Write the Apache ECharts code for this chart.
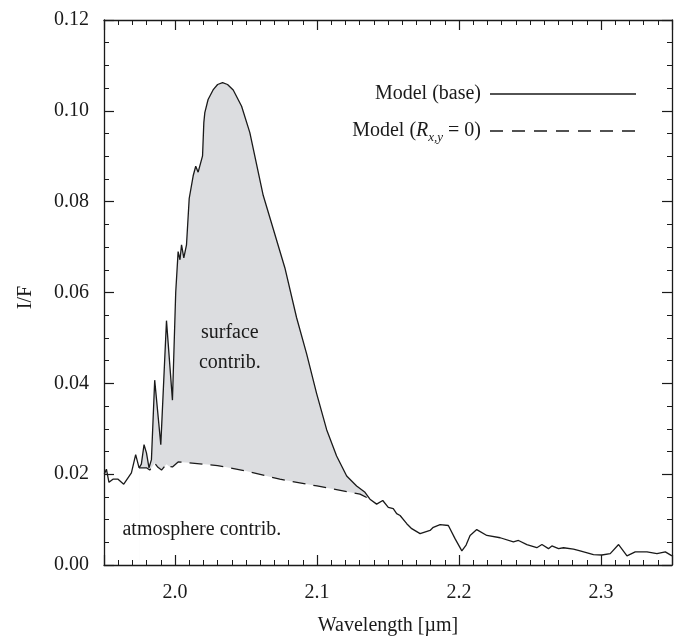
<!DOCTYPE html>
<html><head><meta charset="utf-8">
<script src="https://cdn.jsdelivr.net/npm/echarts@6/dist/echarts.min.js"></script>
<style>html,body{margin:0;padding:0;background:#fff}#c{width:679px;height:641px}</style>
</head><body><div id="c"></div>
<script>
// ---- data ----
const wavelength = [1.9502,1.9517,1.9535,1.9563,1.9599,1.9639,1.9693,1.9723,1.9747,1.9763,1.9782,1.9799,1.9817,1.9834,1.9857,1.9900,1.9940,1.9982,2.0005,2.0022,2.0035,2.0046,2.0062,2.0081,2.0100,2.0128,2.0146,2.0163,2.0194,2.0203,2.0210,2.0233,2.0268,2.0300,2.0335,2.0370,2.0410,2.0469,2.0527,2.0621,2.0691,2.0774,2.0856,2.0927,2.0997,2.1068,2.1138,2.1209,2.1279,2.1338,2.1373,2.1420,2.1463,2.1502,2.1537,2.1561,2.1585,2.1632,2.1667,2.1726,2.1796,2.1819,2.1867,2.1925,2.1972,2.2020,2.2050,2.2078,2.2125,2.2196,2.2290,2.2383,2.2419,2.2478,2.2548,2.2584,2.2630,2.2654,2.2701,2.2736,2.2806,2.2853,2.2947,2.3006,2.3065,2.3124,2.3183,2.3241,2.3324,2.3394,2.3453,2.3500];
const modelBase = [0.0200,0.0211,0.0182,0.0189,0.0189,0.0178,0.0203,0.0243,0.0214,0.0222,0.0265,0.0247,0.0214,0.0232,0.0407,0.0265,0.0538,0.0363,0.0600,0.0690,0.0672,0.0705,0.0676,0.0705,0.0807,0.0857,0.0878,0.0865,0.0901,0.0974,0.0996,0.1025,0.1046,0.1058,0.1062,0.1058,0.1046,0.1010,0.0952,0.0814,0.0741,0.0654,0.0545,0.0465,0.0378,0.0298,0.0240,0.0196,0.0174,0.0160,0.0145,0.0134,0.0142,0.0127,0.0124,0.0113,0.0109,0.0091,0.0080,0.0069,0.0076,0.0083,0.0089,0.0087,0.0058,0.0031,0.0044,0.0065,0.0078,0.0065,0.0060,0.0051,0.0054,0.0045,0.0038,0.0045,0.0036,0.0042,0.0036,0.0038,0.0035,0.0031,0.0023,0.0022,0.0025,0.0045,0.0020,0.0029,0.0029,0.0025,0.0029,0.0020];
const wavelengthR0 = [1.9747,1.9799,1.9822,1.9857,1.9880,1.9905,1.9940,1.9960,1.9982,2.0022,2.0100,2.0300,2.0500,2.0645,2.0738,2.1000,2.1303,2.1373];
const modelR0 = [0.0214,0.0214,0.0209,0.0224,0.0215,0.0209,0.0222,0.0217,0.0216,0.0227,0.0225,0.0219,0.0207,0.0196,0.0189,0.0174,0.0156,0.0145];
const surfaceRange = [1.9747, 2.1373];
const seriesNames = ['Model (base)', 'Model (R_{x,y} = 0)'];
const annotations = [
  {text: 'surface\ncontrib.', x: 2.0386, y: 0.0478, align: 'center'},
  {text: 'atmosphere contrib.', x: 1.963, y: 0.0078, align: 'left'}
];

// ---- chart ----
const FONT = 'Liberation Serif';
const INK = '#1a1a1a';
const basePts = wavelength.map((w, i) => [w, modelBase[i]]);
const r0Pts = wavelengthR0.map((w, i) => [w, modelR0[i]]);
const surfPts = basePts.filter(p => p[0] >= surfaceRange[0] && p[0] <= surfaceRange[1]);

function xAxis(pos, showLabel) {
  return {
    type: 'value', position: pos, min: 1.95, max: 2.35, splitNumber: 4, z: 10,
    axisLine: {show: true, onZero: false, lineStyle: {color: INK, width: 1.3}},
    axisTick: {show: true, inside: true, length: 10, lineStyle: {color: INK, width: 1.2}},
    minorTick: {show: true, splitNumber: 10, length: 5, lineStyle: {color: INK, width: 1}},
    splitLine: {show: false}, minorSplitLine: {show: false},
    axisLabel: {show: showLabel, showMinLabel: false, showMaxLabel: false, margin: 18,
      fontFamily: FONT, fontSize: 20, color: INK, formatter: v => v.toFixed(1)},
    name: showLabel ? 'Wavelength [µm]' : '', nameLocation: 'middle', nameGap: 51,
    nameTextStyle: {fontFamily: FONT, fontSize: 20, color: INK}
  };
}
function yAxis(pos, showLabel) {
  return {
    type: 'value', position: pos, min: 0, max: 0.12, interval: 0.02, z: 10,
    axisLine: {show: true, onZero: false, lineStyle: {color: INK, width: 1.3}},
    axisTick: {show: true, inside: true, length: 10, lineStyle: {color: INK, width: 1.2}},
    minorTick: {show: true, splitNumber: 4, length: 5, lineStyle: {color: INK, width: 1}},
    splitLine: {show: false}, minorSplitLine: {show: false},
    axisLabel: {show: showLabel, margin: 15, fontFamily: FONT, fontSize: 20, color: INK,
      formatter: v => v.toFixed(2)},
    name: showLabel ? 'I/F' : '', nameLocation: 'middle', nameGap: 68, nameRotate: 90,
    nameTextStyle: {fontFamily: FONT, fontSize: 20, color: INK, padding: [0, 10, 0, 0]}
  };
}

const chart = echarts.init(document.getElementById('c'), null, {renderer: 'canvas'});
chart.setOption({
  animation: false,
  backgroundColor: '#fff',
  grid: {left: 104, right: 7, top: 20, bottom: 71, containLabel: false},
  xAxis: [xAxis('bottom', true), xAxis('top', false)],
  yAxis: [yAxis('left', true), yAxis('right', false)],
  series: [
    {type: 'line', name: 'surface fill', data: surfPts, showSymbol: false, symbol: 'none', z: 1,
      lineStyle: {width: 0, opacity: 0}, areaStyle: {color: '#dcdde0', opacity: 1}, silent: true},
    {type: 'line', name: 'atm cover', data: r0Pts, showSymbol: false, symbol: 'none', z: 2,
      lineStyle: {width: 0, opacity: 0}, areaStyle: {color: '#ffffff', opacity: 1}, silent: true},
    {type: 'line', name: seriesNames[0], data: basePts, showSymbol: false, symbol: 'none', z: 5,
      lineStyle: {color: INK, width: 1.3}},
    {type: 'line', name: seriesNames[1], data: r0Pts, showSymbol: false, symbol: 'none', z: 5,
      lineStyle: {color: INK, width: 1.3, type: [13, 8]}}
  ]
});

const g = [];
annotations.forEach((a, i) => {
  const p = chart.convertToPixel({xAxisIndex: 0, yAxisIndex: 0}, [a.x, a.y]);
  g.push({type: 'text', id: 'ann' + i, x: p[0], y: p[1], z: 100,
    style: {text: a.text, fontFamily: FONT, fontSize: 20, fill: INK, lineHeight: 30,
      align: a.align, verticalAlign: 'middle'}});
});
// legend
g.push({type: 'text', id: 'lg0', x: 481, y: 94, z: 100,
  style: {text: 'Model (base)', fontFamily: FONT, fontSize: 20, fill: INK, align: 'right', verticalAlign: 'middle'}});
g.push({type: 'line', id: 'lg0l', z: 100, shape: {x1: 490, y1: 94, x2: 636, y2: 94},
  style: {stroke: INK, lineWidth: 1.3}});
g.push({type: 'text', id: 'lg1', x: 481, y: 131, z: 100,
  style: {text: 'Model ({i|R}{s|x,y} = 0)', fontFamily: FONT, fontSize: 20, fill: INK,
    align: 'right', verticalAlign: 'middle', lineHeight: 26,
    rich: {i: {fontFamily: FONT, fontSize: 20, fontStyle: 'italic', lineHeight: 26},
           s: {fontFamily: FONT, fontSize: 13, fontStyle: 'italic', verticalAlign: 'bottom'}}}});
g.push({type: 'line', id: 'lg1l', z: 100, shape: {x1: 490, y1: 131, x2: 636, y2: 131},
  style: {stroke: INK, lineWidth: 1.3, lineDash: [13, 9]}});
chart.setOption({graphic: g});
</script>
</body></html>
